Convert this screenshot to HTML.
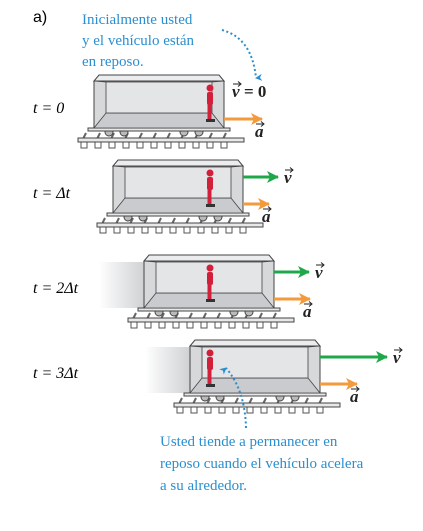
<!DOCTYPE html>
<html><head><meta charset="utf-8"><style>
body{margin:0;background:#fff;width:423px;height:531px;overflow:hidden}
svg{display:block}
text{font-family:"Liberation Serif",serif}
</style></head><body>
<svg id="s" width="423" height="531" viewBox="0 0 423 531">
<defs>
<linearGradient id="fade" x1="0" x2="1"><stop offset="0" stop-color="#fff"/><stop offset="1" stop-color="#cfd1d3"/></linearGradient>
<marker id="ho" markerWidth="12" markerHeight="12" refX="11" refY="6" orient="auto" markerUnits="userSpaceOnUse"><path d="M0,0 L12,6 L0,12 L3,6z" fill="#f39a3c"/></marker>
<marker id="hg" markerWidth="12" markerHeight="12" refX="11" refY="6" orient="auto" markerUnits="userSpaceOnUse"><path d="M0,0 L12,6 L0,12 L3,6z" fill="#1fa84a"/></marker>
<marker id="hb" markerWidth="7" markerHeight="7" refX="3.5" refY="6" orient="auto" markerUnits="userSpaceOnUse"><path d="M0,0 L3.5,7 L7,0 L3.5,2z" fill="#2a8fd0"/></marker>
</defs>
<text x="33" y="22" font-size="16" style="font-family:'Liberation Sans',sans-serif">a)</text>
<g fill="#2a8fd0" font-size="15">
<text x="82" y="24">Inicialmente usted</text>
<text x="82" y="45">y el vehículo están</text>
<text x="82" y="66">en reposo.</text>
</g>
<path d="M222,30 Q252,38 256,78" fill="none" stroke="#2a8fd0" stroke-width="2" stroke-dasharray="2,2.5" marker-end="url(#hb)"/>
<g fill="#2a8fd0" font-size="15">
<text x="160" y="446">Usted tiende a permanecer en</text>
<text x="160" y="468">reposo cuando el vehículo acelera</text>
<text x="160" y="490">a su alrededor.</text>
</g>
<g id="cars"></g>
<path d="M246,428 Q245,390 226,368" fill="none" stroke="#2a8fd0" stroke-width="2" stroke-dasharray="2,2.5" marker-end="url(#hb)"/>
</svg>
<script>
const carX=[94,113,144,190];
const carY=[75,160,255,340];
const labels=["t = 0","t = Δt","t = 2Δt","t = 3Δt"];
const vLen=[0,35,35,67];
const aLen=[38,26,36,37];
const NS="http://www.w3.org/2000/svg";
const root=document.getElementById('cars');
function el(t,a,p){const e=document.createElementNS(NS,t);for(const k in a)e.setAttribute(k,a[k]);(p||root).appendChild(e);return e;}
function vecLabel(g,ch,x,y){
  const t=el('text',{x:x,y:y,'font-size':17,'font-weight':'bold','font-style':'italic',fill:'#222'},g);t.textContent=ch;
  el('path',{d:`M${x+1},${y-13} L${x+9},${y-13} M${x+6},${y-15.5} L${x+9},${y-13} L${x+6},${y-10.5}`,stroke:'#222','stroke-width':1,fill:'none'},g);
  return t;
}
for(let i=0;i<4;i++){
  const x=carX[i],y=carY[i];
  const g=el('g',{});
  
  
  const lb=el('text',{x:33,y:y+38,'font-size':16,'font-style':'italic'},g);
  lb.textContent=labels[i];
  
  
  if(i>=2){const f=el('rect',{x:x-45,y:y+7,width:45,height:46,fill:'url(#fade)'},g);
    }
  for(let k=0;k<11;k++){el('rect',{x:x-13+k*14,y:y+67,width:6,height:6,fill:'#fff',stroke:'#555','stroke-width':1},g);
    el('line',{x1:x-8+k*14,y1:y+58,x2:x-12+k*14,y2:y+66,stroke:'#666','stroke-width':2},g);}
  el('rect',{x:x-16,y:y+63,width:166,height:4,fill:'#e8e8e8',stroke:'#444','stroke-width':1},g);
  for(const wx of [15,30,90,105]) el('circle',{cx:x+wx,cy:y+57,r:4,fill:'#bbb',stroke:'#444','stroke-width':1},g);
  el('rect',{x:x-6,y:y+53,width:142,height:3,fill:'#e8e8e8',stroke:'#444','stroke-width':1},g);
  el('rect',{x:x,y:y+6,width:130,height:47,fill:'#d6d8da',stroke:'#444','stroke-width':1},g);
  el('polygon',{points:`${x},${y+6} ${x+5},${y} ${x+125},${y} ${x+130},${y+6}`,fill:'#ebecee',stroke:'#444','stroke-width':1},g);
  el('polygon',{points:`${x+12},${y+38} ${x+118},${y+38} ${x+130},${y+53} ${x},${y+53}`,fill:'#c9cbce',stroke:'#444','stroke-width':0.8},g);
  el('rect',{x:x+12,y:y+7,width:106,height:31,fill:'#e4e5e7',stroke:'#444','stroke-width':0.8},g);
  el('line',{x1:x+12,y1:y+7,x2:x,y2:y+6,stroke:'#444','stroke-width':0.8},g);
  el('line',{x1:x+118,y1:y+7,x2:x+130,y2:y+6,stroke:'#444','stroke-width':0.8},g);
  const px=210;
  const p=el('g',{fill:'#d3203a'},g);
  
  el('circle',{cx:px,cy:y+13,r:3.5},p);
  el('rect',{x:px-3,y:y+17,width:6,height:13,rx:2},p);
  el('rect',{x:px-2.5,y:y+29,width:4,height:16},p);
  el('rect',{x:px-4,y:y+44,width:9,height:3,fill:'#333'},p);
  if(vLen[i]>0){
    const v=el('line',{x1:x+130,y1:y+17,x2:x+130+vLen[i],y2:y+17,stroke:'#1fa84a','stroke-width':3,'marker-end':'url(#hg)'},g);
    
    vecLabel(g,'v',x+136+vLen[i],y+23);
  } else {
    vecLabel(g,'v',x+138,y+22);
    const vt=el('text',{x:x+150,y:y+22,'font-size':17,'font-weight':'bold',fill:'#222'},g);vt.textContent='= 0';
    
  }
  const a=el('line',{x1:x+130,y1:y+44,x2:x+130+aLen[i],y2:y+44,stroke:'#f39a3c','stroke-width':3,'marker-end':'url(#ho)'},g);
  
  vecLabel(g,'a',x+131+aLen[i]-8,y+62);
}
</script>
</body></html>
